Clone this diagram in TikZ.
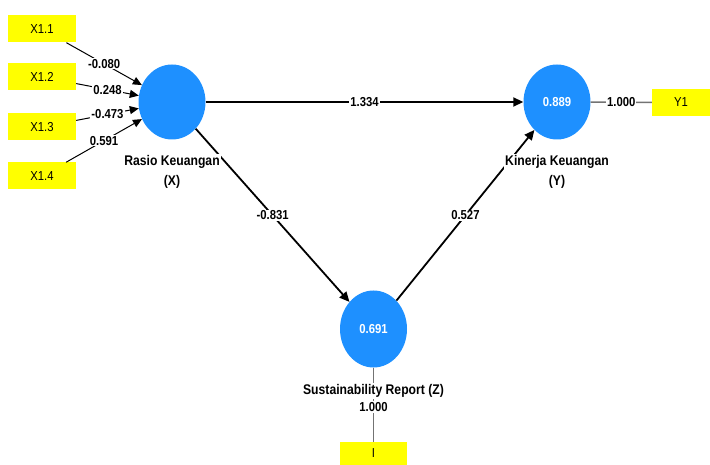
\documentclass[tikz,border=0pt]{standalone}
\usepackage{fontspec}
\setmainfont[FakeStretch=0.87]{Liberation Sans}
\usetikzlibrary{shapes.geometric,arrows.meta}
\definecolor{lvblue}{HTML}{1E90FF}
\definecolor{mvyellow}{HTML}{FFFF00}
\begin{document}
\begin{tikzpicture}[x=1pt,y=-1pt,
  ind/.style={rectangle,fill=mvyellow,minimum width=68pt,minimum height=27pt,inner sep=0pt,font=\fontsize{13}{15}\selectfont},
  lv/.style={ellipse,fill=lvblue,minimum width=67pt,minimum height=75pt,inner sep=0pt,text=white,font=\fontsize{13}{15}\selectfont\bfseries},
  lvlabel/.style={fill=white,inner sep=1pt,align=center,font=\fontsize{14}{20}\selectfont\bfseries},
  coef/.style={fill=white,inner sep=1pt,font=\fontsize{13}{15}\selectfont\bfseries},
  path/.style={draw=black,line width=1.8pt,-{Triangle[length=10pt,width=9pt]}},
  load/.style={draw=black,line width=1pt,-{Triangle[length=9pt,width=8pt]}},
  gload/.style={draw=black!55,line width=1.6pt}]
\useasboundingbox (0,0) rectangle (710,465);
% indicators
\node[ind] (x11) at (42,29) {X1.1};
\node[ind] (x12) at (42,77) {X1.2};
\node[ind] (x13) at (42,127) {X1.3};
\node[ind] (x14) at (42,176) {X1.4};
\node[ind,minimum width=58pt] (y1) at (681,102.5) {Y1};
\node[ind,minimum width=67pt,minimum height=23pt] (ii) at (373.5,453.5) {I};
% latent variables
\node[lv] (X) at (172,102) {};
\node[lv] (Y) at (557,102) {0.889};
\node[lv,minimum height=77pt] (Z) at (373.5,329) {0.691};
% loadings
\draw[load] (x11) -- node[coef] {-0.080} (X);
\draw[load] (x12) -- node[coef] {0.248} (X);
\draw[load] (x13) -- node[coef] {-0.473} (X);
\draw[load] (x14) -- node[coef] {0.591} (X);
\draw[gload] (Y) -- node[coef] {1.000} (y1);
\draw[gload] (Z.south) -- (ii.north);
% paths
\draw[path] (X) -- node[coef] {1.334} (Y);
\draw[path] (X) -- node[coef] {-0.831} (Z);
\draw[path] (Z) -- node[coef] {0.527} (Y);
% labels
\node[lvlabel] (xl) at (172,172) {Rasio Keuangan\\(X)};
\node[lvlabel] (yl) at (557,172) {Kinerja Keuangan\\(Y)};
\node[lvlabel] (zl) at (373.5,391) {Sustainability Report (Z)};
\node[coef] (zload) at (373.5,407) {1.000};
\end{tikzpicture}
\end{document}
